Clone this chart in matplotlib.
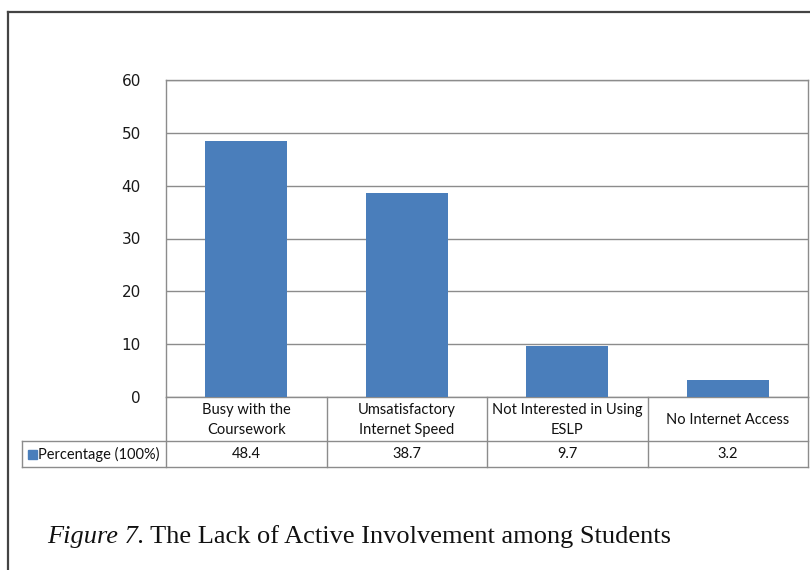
import matplotlib
matplotlib.use("Agg")
import matplotlib.pyplot as plt
from matplotlib.lines import Line2D
from matplotlib.patches import Rectangle

categories = ["Busy with the\nCoursework", "Umsatisfactory\nInternet Speed",
              "Not Interested in Using\nESLP", "No Internet Access"]
values = [48.4, 38.7, 9.7, 3.2]
value_labels = ["48.4", "38.7", "9.7", "3.2"]
series_name = "Percentage (100%)"
yticks = [0, 10, 20, 30, 40, 50, 60]
caption_italic = "Figure 7."
caption_rest = " The Lack of Active Involvement among Students"

W, H = 810, 570
fig = plt.figure(figsize=(W / 100, H / 100), dpi=100)

def fx(px):
    return px / W

def fy(py):
    return 1 - py / H

bar_color = "#4A7EBB"
grid_color = "#8C8C8C"
table_font = "Lato"
tfs = 10.5

ax_l, ax_r, ax_t, ax_b = 166, 808, 80, 397
ax = fig.add_axes([fx(ax_l), fy(ax_b), fx(ax_r) - fx(ax_l), fy(ax_t) - fy(ax_b)])
x = list(range(len(categories)))
ax.bar(x, values, width=0.51, color=bar_color, zorder=3)
ax.set_xlim(-0.5, len(categories) - 0.5)
ax.set_ylim(0, 60)
ax.set_yticks(yticks)
ax.set_yticklabels([str(t) for t in yticks], fontsize=11, family="DejaVu Sans", color="#1a1a1a")
ax.tick_params(axis="y", length=0, pad=18)
ax.set_xticks([])
ax.yaxis.grid(True, color=grid_color, linewidth=1.0, zorder=0)
for s in ax.spines.values():
    s.set_color(grid_color)
    s.set_linewidth(1.0)

# outer border (top & left)
fig.add_artist(Line2D([fx(8), fx(8)], [fy(12), 0], color="#444444", linewidth=1.6))
fig.add_artist(Line2D([fx(8), 1], [fy(12), fy(12)], color="#444444", linewidth=1.6))

# data table
row1_b = 441
row2_b = 467
tbl_left = 22
col_edges = [ax_l + i * (ax_r - ax_l) / len(categories) for i in range(len(categories) + 1)]
lw = 1.0
fig.add_artist(Line2D([fx(tbl_left), fx(ax_r)], [fy(row1_b), fy(row1_b)], color=grid_color, linewidth=lw))
fig.add_artist(Line2D([fx(tbl_left), fx(ax_r)], [fy(row2_b), fy(row2_b)], color=grid_color, linewidth=lw))
for ce in col_edges:
    fig.add_artist(Line2D([fx(ce), fx(ce)], [fy(ax_b), fy(row2_b)], color=grid_color, linewidth=lw))
fig.add_artist(Line2D([fx(tbl_left), fx(tbl_left)], [fy(row1_b), fy(row2_b)], color=grid_color, linewidth=lw))

for i, (cat, val) in enumerate(zip(categories, value_labels)):
    cx = (col_edges[i] + col_edges[i + 1]) / 2
    fig.text(fx(cx), fy((ax_b + row1_b) / 2 + 1), cat, ha="center", va="center",
             fontsize=tfs, family=table_font, color="#111111", linespacing=1.55)
    fig.text(fx(cx), fy((row1_b + row2_b) / 2), val, ha="center", va="center",
             fontsize=tfs, family=table_font, color="#111111")

# legend key + series name
fig.add_artist(Rectangle((fx(28), fy(459)), fx(9), fy(450) - fy(459), color=bar_color,
                         transform=fig.transFigure))
fig.text(fx(38), fy((row1_b + row2_b) / 2), series_name, ha="left", va="center",
         fontsize=tfs, family=table_font, color="#111111")

# caption
cfs = 19
t1 = fig.text(fx(47), fy(537), caption_italic, ha="left", va="center",
              fontsize=cfs, family="Liberation Serif", style="italic", color="#111111")
fig.canvas.draw()
bb = t1.get_window_extent()
fig.text(bb.x1 / W, fy(537), caption_rest, ha="left", va="center",
         fontsize=cfs, family="Liberation Serif", color="#111111")

fig.savefig("out.png", dpi=100)
